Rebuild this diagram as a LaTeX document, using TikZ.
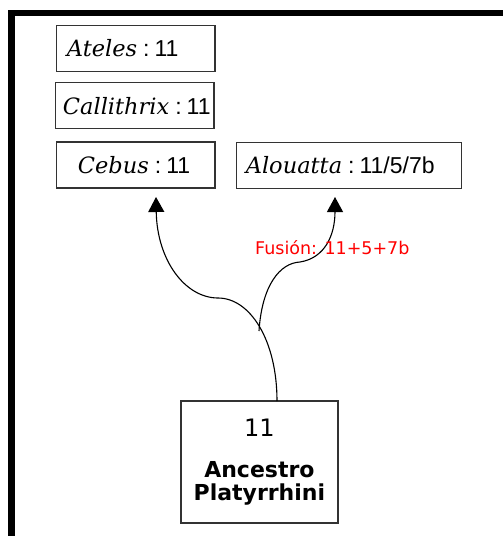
\documentclass[tikz,border=0pt]{standalone}
\usepackage{fontspec}
\usetikzlibrary{arrows.meta}
\newfontfamily\spfont{DejaVu Serif}
\newfontfamily\numfont{Liberation Sans}
\newfontfamily\cfont{DejaVu Sans}
\definecolor{boxline}{HTML}{333333}
\newcommand{\spname}[2]{\mbox{{\spfont\itshape #1}{\numfont\fontsize{23}{26}\selectfont\hspace{6pt}:\hspace{5pt}#2}}}
\begin{document}
\begin{tikzpicture}[x=1pt,y=-1pt,
  spbox/.style={draw=boxline, line width=1.2pt, rectangle, align=left,
    minimum height=46pt, inner ysep=0pt, font=\fontsize{22.5}{26}\selectfont},
  arr/.style={line width=1.1pt, -{Triangle[length=15pt,width=16pt]}},
  frame/.style={line width=6.5pt}]
\useasboundingbox (0,0) rectangle (503,536);
\draw[frame] (11.5,536) |- (503,13);
\node[spbox, inner xsep=10.3pt, text width=137.7pt] (ateles) at (135.8,48.3) {\spname{Ateles}{11}};
\node[spbox, inner xsep=7.3pt, text width=143.7pt] (calli) at (134.8,105.8) {\spname{Callithrix}{11}};
\node[spbox, inner xsep=21.3pt, text width=115.7pt] (cebus) at (135.8,165) {\spname{Cebus}{11}};
\node[spbox, inner xsep=9.3pt, text width=206.4pt] (alou) at (349,165.2) {\spname{Alouatta}{11/5/7b}};
\node[draw=boxline, line width=1.2pt, minimum width=157pt, minimum height=122pt, align=center,
  font=\cfont\fontsize{22}{23}\selectfont] (anc) at (259.4,461.9)
  {{\fontsize{24}{24}\selectfont 11}\\[18pt]\textbf{Ancestro}\\\textbf{Platyrrhini}};
\coordinate (root) at (277,401);
\coordinate (bend) at (218,298);
\coordinate (fork) at (259,331);
\coordinate (bend2) at (300,262);
\coordinate (tipc) at (156,197);
\coordinate (tipa) at (335,197);
\draw[arr] (root) .. controls (277,340) and (250,298) .. (bend)
  .. controls (185,298) and (157,260) .. (tipc);
\draw[arr] (fork) .. controls (262,285) and (280,263) .. (bend2)
  .. controls (325,258) and (335,235) .. (tipa);
\node[anchor=base west, inner sep=0pt, text=red, font=\cfont\fontsize{17.5}{20}\selectfont] (fus) at (255,254) {Fusión: 11+5+7b};
\end{tikzpicture}
\end{document}
